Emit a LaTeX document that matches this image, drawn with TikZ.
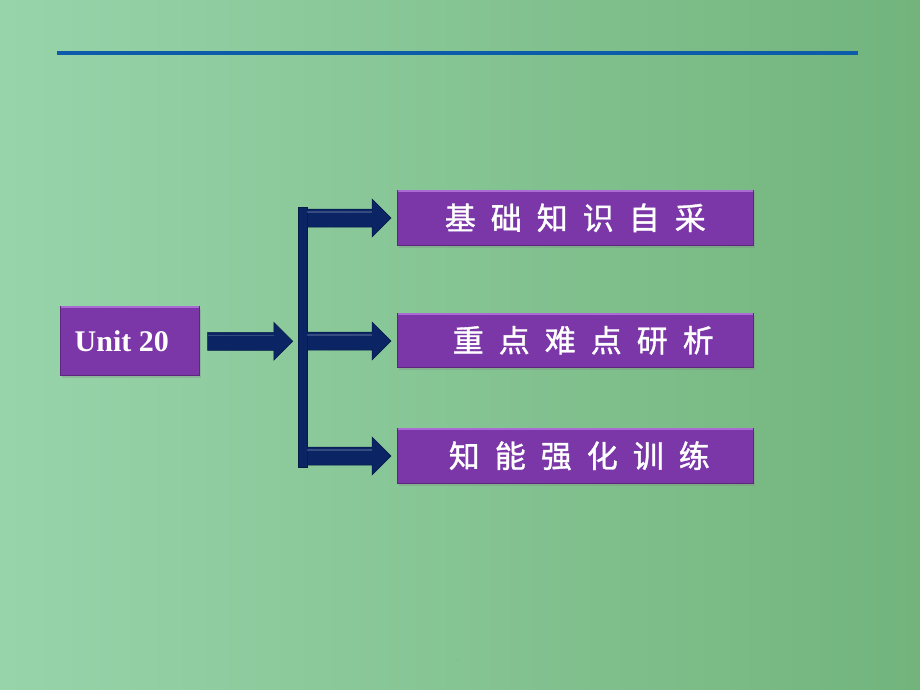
\documentclass[tikz,border=0pt]{standalone}
\usepackage{fontspec}
\setmainfont{Liberation Serif}
\newfontfamily\cjk[FakeBold=1.2]{Noto Sans CJK SC}
\usetikzlibrary{calc,shadows}
\definecolor{bgL}{RGB}{152,212,170}
\definecolor{bgR}{RGB}{114,180,124}
\definecolor{rulec}{RGB}{12,92,170}
\definecolor{boxc}{RGB}{123,54,168}
\definecolor{boxtop}{RGB}{170,108,212}
\definecolor{navy}{RGB}{10,36,100}
\newcommand\gp{\hspace{15pt}}
\newcommand\blockarrow[2]{%
  \fill[navy, draw=navy!70!black, line width=0.5pt]
    ($(#1)+(0,-9)$) -- ($(#2)+(-19,-9)$) -- ($(#2)+(-19,-19)$) -- (#2)
    -- ($(#2)+(-19,19)$) -- ($(#2)+(-19,9)$) -- ($(#1)+(0,9)$) -- cycle;
  \draw[white, opacity=0.18, line width=1.2pt]
    ($(#1)+(0,-6)$) -- ($(#2)+(-19,-6)$);}
\begin{document}
\begin{tikzpicture}[x=1pt,y=-1pt,
  purplebox/.style={fill=boxc, draw=boxc!75!black, line width=0.6pt,
    inner sep=0pt, anchor=north west, text=white,
    drop shadow={shadow xshift=1.5pt, shadow yshift=-2.5pt, opacity=0.3}},
  cjktext/.style={font=\cjk\fontsize{31}{31}\selectfont},
  toprim/.style={boxtop, line width=1.6pt}]
  \shade[left color=bgL, right color=bgR] (0,0) rectangle (920,690);
  \useasboundingbox (0,0) rectangle (920,690);
  % top rule
  \draw[rulec, line width=4pt] (57,53) -- (858,53);
  % unit box
  \node[purplebox, minimum width=139pt, minimum height=69pt,
        font=\bfseries\fontsize{30}{30}\selectfont] (unit) at (60,306)
        {\raisebox{-1.5pt}{Unit 20}\kern16pt};
  \draw[toprim] ($(unit.north west)+(1,1)$) -- ($(unit.north east)+(-1,1)$);
  % right boxes
  \node[purplebox, cjktext, minimum width=356pt, minimum height=55pt] (b1) at (397,190)
        {基\gp 础\gp 知\gp 识\gp 自\gp 采};
  \node[purplebox, cjktext, minimum width=356pt, minimum height=54pt] (b2) at (397,313)
        {\kern16pt 重\gp 点\gp 难\gp 点\gp 研\gp 析};
  \node[purplebox, cjktext, minimum width=356pt, minimum height=55pt] (b3) at (397,428)
        {\kern8pt 知\gp 能\gp 强\gp 化\gp 训\gp 练};
  \foreach \b in {b1,b2,b3}
    \draw[toprim] ($(\b.north west)+(1,1)$) -- ($(\b.north east)+(-1,1)$);
  % vertical bar
  \node[fill=navy, draw=navy!70!black, line width=0.5pt, inner sep=0pt,
        minimum width=9pt, minimum height=260pt] (bar) at (302.5,337) {};
  % coordinates for arrows
  \coordinate (a0s) at ($(unit.east)+(8,0.5)$);
  \coordinate (a0e) at ($(bar.west |- a0s)+(-5,0)$);
  \coordinate (a1s) at (bar.east |- 0,218);
  \coordinate (a1e) at ($(b1.west |- a1s)+(-6,0)$);
  \coordinate (a2s) at (bar.east |- 0,341);
  \coordinate (a2e) at ($(b2.west |- a2s)+(-6,0)$);
  \coordinate (a3s) at (bar.east |- 0,456);
  \coordinate (a3e) at ($(b3.west |- a3s)+(-6,0)$);
  \blockarrow{a0s}{a0e}
  \blockarrow{a1s}{a1e}
  \blockarrow{a2s}{a2e}
  \blockarrow{a3s}{a3e}
  \node[text=gray, font=\fontsize{6}{6}\selectfont] (dot) at (458,661) {.};
\end{tikzpicture}
\end{document}
